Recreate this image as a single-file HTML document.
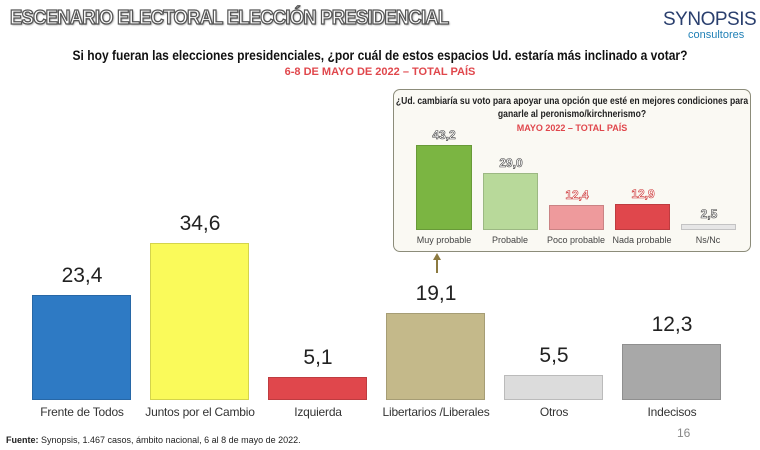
<!DOCTYPE html>
<html><head><meta charset="utf-8"><style>
body{margin:0;width:760px;height:450px;background:#fff;position:relative;overflow:hidden;font-family:"Liberation Sans",sans-serif}
.a{position:absolute}
.title{left:10px;top:7px;font-size:20px;font-weight:bold;color:#fff;letter-spacing:-0.8px;-webkit-text-stroke:1.3px #555;text-shadow:1px 1px 2px #888;transform:scaleX(0.92);transform-origin:left}
.bar{position:absolute;border:1px solid rgba(0,0,0,.15);box-sizing:border-box}
.val{position:absolute;width:100px;text-align:center;font-size:21px;color:#222}
.lab{position:absolute;width:120px;text-align:center;font-size:12px;color:#333;top:405px;letter-spacing:-0.2px}
.sv{position:absolute;width:56px;text-align:center;font-size:12px;font-weight:bold;color:#fff;-webkit-text-stroke:0.6px #444}
.sl{position:absolute;width:70px;text-align:center;font-size:9px;color:#444;top:235px}
.ctr{position:absolute;white-space:nowrap;transform:translateX(-50%) scaleX(0.86)}
</style></head><body>
<div class="a title">ESCENARIO ELECTORAL ELECCIÓN PRESIDENCIAL</div>
<div class="a" style="left:663px;top:9px;font-size:19px;color:#2a3f6e;letter-spacing:-0.5px;white-space:nowrap">SYNOPSIS</div>
<div class="a" style="left:688px;top:29px;font-size:11px;color:#1f7fb5">consultores</div>
<div class="ctr" style="left:380px;top:47px;font-size:14px;font-weight:bold;color:#111">Si hoy fueran las elecciones presidenciales, ¿por cuál de estos espacios Ud. estaría más inclinado a votar?</div>
<div class="ctr" style="left:380px;top:66px;font-size:11px;font-weight:bold;color:#e0474c;transform:translateX(-50%)">6-8 DE MAYO DE 2022 – TOTAL PAÍS</div>

<div class="a" style="left:393px;top:89px;width:358px;height:163px;border:1.5px solid #8c8c7a;border-radius:7px;background:#faf9f3;box-sizing:border-box"></div>
<div class="ctr" style="left:572px;top:96px;font-size:10px;font-weight:bold;color:#222">¿Ud. cambiaría su voto para apoyar una opción que esté en mejores condiciones para</div>
<div class="ctr" style="left:572px;top:109px;font-size:10px;font-weight:bold;color:#222">ganarle al peronismo/kirchnerismo?</div>
<div class="ctr" style="left:572px;top:123px;font-size:9px;font-weight:bold;color:#e0474c;transform:translateX(-50%)">MAYO 2022 – TOTAL PAÍS</div>
<div class="bar" style="left:416px;top:145px;width:56px;height:85px;background:#7bb542"></div>
<div class="bar" style="left:483px;top:173px;width:55px;height:57px;background:#b8d99a"></div>
<div class="bar" style="left:549px;top:205px;width:55px;height:25px;background:#ee9a9c"></div>
<div class="bar" style="left:615px;top:204px;width:55px;height:26px;background:#e0474c"></div>
<div class="bar" style="left:681px;top:224px;width:55px;height:6px;background:#e6e6e6"></div>
<div class="sv" style="left:416px;top:128px">43,2</div>
<div class="sv" style="left:483px;top:156px">29,0</div>
<div class="sv" style="left:549px;top:188px;-webkit-text-stroke-color:#c33">12,4</div>
<div class="sv" style="left:615px;top:187px;-webkit-text-stroke-color:#c33">12,9</div>
<div class="sv" style="left:681px;top:207px">2,5</div>
<div class="sl" style="left:409px">Muy probable</div>
<div class="sl" style="left:475px">Probable</div>
<div class="sl" style="left:541px">Poco probable</div>
<div class="sl" style="left:607px">Nada probable</div>
<div class="sl" style="left:673px">Ns/Nc</div>
<div class="a" style="left:436px;top:258px;width:2px;height:15px;background:#8c7a40"></div>
<div class="a" style="left:433px;top:253px;width:0;height:0;border-left:4px solid transparent;border-right:4px solid transparent;border-bottom:7px solid #8c7a40"></div>

<div class="bar" style="left:32px;top:295px;width:99px;height:105px;background:#2e7ac4"></div>
<div class="bar" style="left:150px;top:243px;width:99px;height:157px;background:#fafa5a"></div>
<div class="bar" style="left:268px;top:377px;width:99px;height:23px;background:#e0474c"></div>
<div class="bar" style="left:386px;top:313px;width:99px;height:87px;background:#c4b98a"></div>
<div class="bar" style="left:504px;top:375px;width:99px;height:25px;background:#dcdcdc"></div>
<div class="bar" style="left:622px;top:344px;width:99px;height:56px;background:#a8a8a8"></div>
<div class="val" style="left:32px;top:264px">23,4</div>
<div class="val" style="left:150px;top:212px">34,6</div>
<div class="val" style="left:268px;top:346px">5,1</div>
<div class="val" style="left:386px;top:282px">19,1</div>
<div class="val" style="left:504px;top:344px">5,5</div>
<div class="val" style="left:622px;top:313px">12,3</div>
<div class="lab" style="left:22px">Frente de Todos</div>
<div class="lab" style="left:140px">Juntos por el Cambio</div>
<div class="lab" style="left:258px">Izquierda</div>
<div class="lab" style="left:376px">Libertarios /Liberales</div>
<div class="lab" style="left:494px">Otros</div>
<div class="lab" style="left:612px">Indecisos</div>
<div class="a" style="left:6px;top:435px;font-size:9px;color:#222"><b>Fuente:</b> Synopsis, 1.467 casos, ámbito nacional, 6 al 8 de mayo de 2022.</div>
<div class="a" style="left:677px;top:426px;font-size:12px;color:#888">16</div>
</body></html>
